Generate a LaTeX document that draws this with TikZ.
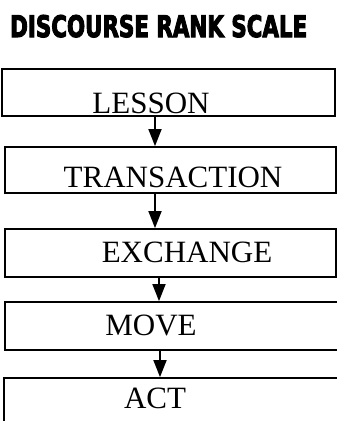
\documentclass[tikz,border=0pt]{standalone}
\usepackage{fontspec}
\usepackage{graphicx}
\usetikzlibrary{arrows.meta}
\setmainfont{Liberation Serif}
\newfontfamily\titlefont[FakeBold=4]{DejaVu Sans}
\begin{document}
\begin{tikzpicture}[x=1pt,y=-1pt,
  rankbox/.style={draw,line width=1.8pt,rectangle,inner sep=0pt},
  ranktext/.style={anchor=base,inner sep=0pt,font=\fontsize{31}{36}\selectfont},
  downarrow/.style={line width=1.8pt,-{Triangle[width=13pt,length=17pt]}}]
\useasboundingbox (0,0) rectangle (337,421);
\clip (0,0) rectangle (337,421);

% heading
\node[anchor=base west,inner sep=0pt] (title) at (10,37)
  {\resizebox{297pt}{22pt}{\titlefont\bfseries DISCOURSE RANK SCALE}};

% the five ranks, top to bottom
\node[rankbox,minimum width=333pt,minimum height=47pt] (lesson) at (168.5,92.5) {};
\node[rankbox,minimum width=331pt,minimum height=46pt] (transaction) at (170.5,170) {};
\node[rankbox,minimum width=331pt,minimum height=48pt] (exchange) at (170.5,253) {};
\node[rankbox,minimum width=334pt,minimum height=48pt] (move) at (172,326) {};
\node[rankbox,minimum width=336pt,minimum height=52pt] (act) at (172,404) {};

\node[ranktext] (lessontext) at (151,113) {LESSON};
\node[ranktext] (transactiontext) at (173,187) {TRANSACTION};
\node[ranktext] (exchangetext) at (187,262) {EXCHANGE};
\node[ranktext] (movetext) at (151,335) {MOVE};
\node[ranktext] (acttext) at (155,408) {ACT};

% arrows between ranks
\coordinate (a1) at (155,0);
\coordinate (a2) at (155,0);
\coordinate (a3) at (159,0);
\coordinate (a4) at (160,0);
\draw[downarrow] (lesson.south -| a1) -- (transaction.north -| a1);
\draw[downarrow] (transaction.south -| a2) -- (exchange.north -| a2);
\draw[downarrow] (exchange.south -| a3) -- (move.north -| a3);
\draw[downarrow] (move.south -| a4) -- (act.north -| a4);
\end{tikzpicture}
\end{document}
